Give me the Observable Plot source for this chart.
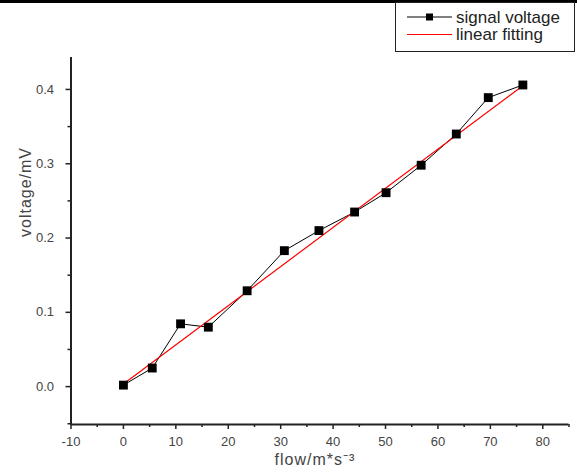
<!DOCTYPE html>
<html><head><meta charset="utf-8">
<script src="https://cdn.jsdelivr.net/npm/d3@7"></script>
<script src="https://cdn.jsdelivr.net/npm/@observablehq/plot@0.6"></script>
<style>
body{margin:0;background:#fff;}
#wrap{position:relative;width:577px;height:476px;overflow:hidden;font-family:"Liberation Sans",Arial,sans-serif;}
#band{position:absolute;left:0;top:0;width:577px;height:3px;background:#000;}
#legend{position:absolute;left:395px;top:2px;width:180px;height:50px;border:1px solid #222;background:#fff;box-sizing:border-box;}
</style></head><body>
<div id="wrap"><div id="chart"></div><div id="band"></div><div id="legend"></div></div>
<script>
const flow    = [0, 5.5, 10.9, 16.2, 23.6, 30.7, 37.3, 44.1, 50.1, 56.8, 63.5, 69.6, 76.2];
const voltage = [0.002, 0.025, 0.0845, 0.080, 0.129, 0.183, 0.210, 0.235, 0.261, 0.298, 0.340, 0.389, 0.406];
const fitFlow = [0, 76.2];
const fitVoltage = [0.0035, 0.405];
const xTicks = [-10, 0, 10, 20, 30, 40, 50, 60, 70, 80];
const xMinor = [-5, 5, 15, 25, 35, 45, 55, 65, 75, 85];
const yTicks = [0, 0.1, 0.2, 0.3, 0.4];
const yMinor = [-0.05, 0.05, 0.15, 0.25, 0.35];
const seriesNames = ["signal voltage", "linear fitting"];
const seriesColors = ["#000000", "#ff0000"];
const xTitle = "flow/m*s⁻³";
const yTitle = "voltage/mV";

const pts = flow.map((f, i) => ({flow: f, voltage: voltage[i]}));
const fit = fitFlow.map((f, i) => ({flow: f, voltage: fitVoltage[i]}));
const xDomain = [-10, 85];
const yDomain = [-0.051, 0.443];
const axisColor = "#222";
const textColor = "#444";

const chart = Plot.plot({
  width: 577,
  height: 476,
  marginLeft: 70.5,
  marginRight: 8.5,
  marginTop: 57,
  marginBottom: 52,
  style: {fontFamily: "'Liberation Sans', Arial, sans-serif", fontSize: "13px", color: textColor, background: "#fff"},
  x: {domain: xDomain},
  y: {domain: yDomain},
  marks: [
    Plot.axisX({ticks: xTicks, tickSize: 5, tickPadding: 7, tickFormat: d => String(d), label: null, stroke: axisColor, strokeWidth: 1.5, strokeOpacity: 1, fill: textColor, fontSize: 13}),
    Plot.axisX({ticks: xMinor, tickSize: 3, tickFormat: null, text: null, label: null, stroke: axisColor, strokeWidth: 1.5, strokeOpacity: 1}),
    Plot.axisY({ticks: yTicks, tickSize: 5, tickPadding: 12, tickFormat: d3.format(".1f"), label: null, stroke: axisColor, strokeWidth: 1.5, strokeOpacity: 1, fill: textColor, fontSize: 13}),
    Plot.axisY({ticks: yMinor, tickSize: 3, tickFormat: null, text: null, label: null, stroke: axisColor, strokeWidth: 1.5, strokeOpacity: 1}),
    Plot.ruleY([yDomain[0]], {stroke: axisColor, strokeWidth: 2}),
    Plot.ruleX([xDomain[0]], {stroke: axisColor, strokeWidth: 2}),
    Plot.line(pts, {x: "flow", y: "voltage", stroke: seriesColors[0], strokeWidth: 1}),
    Plot.line(fit, {x: "flow", y: "voltage", stroke: seriesColors[1], strokeWidth: 1.2}),
    Plot.dot(pts, {x: "flow", y: "voltage", symbol: "square", r: 5, fill: "#000", stroke: "none"}),
    Plot.text([xTitle], {frameAnchor: "bottom", text: d => d, dx: -5, dy: 40, fontSize: 16, fill: textColor}),
    Plot.text([yTitle], {frameAnchor: "left", text: d => d, rotate: -90, dx: -45, dy: -4, fontSize: 16, fill: textColor})
  ]
});
document.getElementById("chart").appendChild(chart);
chart.querySelectorAll("text").forEach(t => { if (t.textContent === xTitle || t.textContent === yTitle) t.setAttribute("letter-spacing", "1px"); });

// legend
const lg = d3.select("#legend").append("svg").attr("width", 178).attr("height", 48)
  .style("display", "block");
seriesNames.forEach((name, i) => {
  const y = 14 + i * 17.5;
  const g = lg.append("g");
  g.append("line").attr("x1", 11).attr("x2", 56).attr("y1", y).attr("y2", y)
    .attr("stroke", seriesColors[i]).attr("stroke-width", 1);
  if (i === 0) g.append("rect").attr("x", 30).attr("y", y - 3.5).attr("width", 7).attr("height", 7).attr("fill", "#000");
  g.append("text").attr("x", 60).attr("y", y).attr("dy", "0.35em")
    .attr("font-size", 17).attr("fill", "#222")
    .attr("font-family", "'Liberation Sans', Arial, sans-serif").text(name);
});
</script>
</body></html>
